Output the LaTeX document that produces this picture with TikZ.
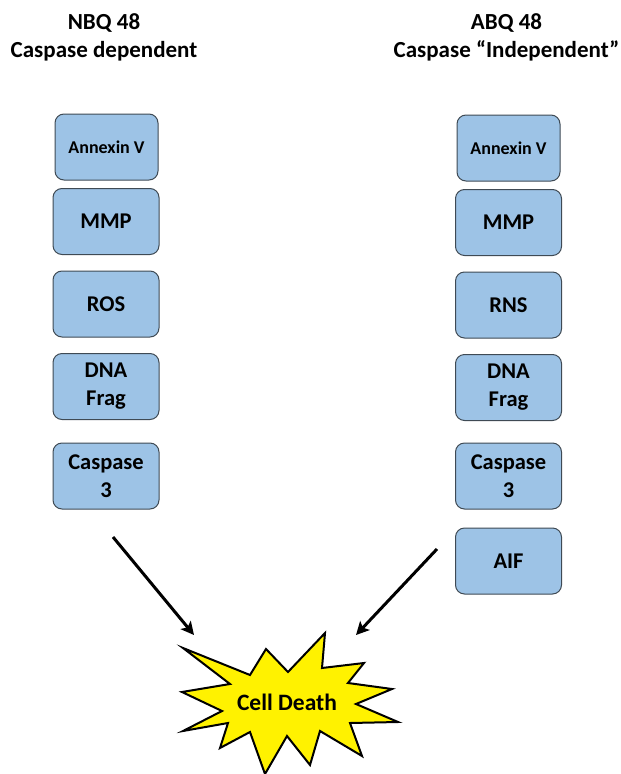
\documentclass[tikz,border=0pt]{standalone}
\usepackage{fontspec}
\setmainfont{Carlito}
\usetikzlibrary{arrows.meta,positioning,calc}
\definecolor{assayblue}{HTML}{9DC3E6}
\definecolor{assayedge}{HTML}{3F4A54}
\definecolor{burstyellow}{HTML}{FFF200}

\begin{document}
\begin{tikzpicture}[
  x=1pt, y=-1pt,
  hdr/.style={font=\fontsize{23}{28}\selectfont\bfseries, align=center},
  assay/.style={draw=assayedge, line width=1pt, fill=assayblue, rounded corners=9pt,
                minimum width=106pt, minimum height=66pt, inner sep=0pt,
                font=\fontsize{22.5}{28}\selectfont\bfseries, align=center},
  small/.style={minimum width=103pt, font=\fontsize{18}{20}\selectfont\bfseries},
  arrow/.style={-{Stealth[length=13pt,width=13pt,inset=3pt]}, line width=3pt},
]
\useasboundingbox (0,0) rectangle (621,774);

%% ---- Titulos ----
\node[hdr] at (104,37)  (nbq) {NBQ 48\\Caspase dependent};
\node[hdr] at (506.5,37)  (abq) {ABQ 48\\Caspase “Independent”};

%% ---- Columna izquierda (NBQ 48) ----
\node[assay, small] at (106.5,147) (annL) {Annexin V};
\node[assay] at (106,221.5) (mmpL)  {MMP};
\node[assay] at (106,304)   (rosL)  {ROS};
\node[assay] at (106,386.5) (dnaL)  {DNA\\Frag};
\node[assay] at (106,476)   (caspL) {Caspase\\3};

%% ---- Columna derecha (ABQ 48) ----
\node[assay, small] at (508.5,148) (annR) {Annexin V};
\node[assay] at (508.5,222.5) (mmpR)  {MMP};
\node[assay] at (508.5,305)   (rnsR)  {RNS};
\node[assay] at (508.5,387.5) (dnaR)  {DNA\\Frag};
\node[assay] at (508.5,476)   (caspR) {Caspase\\3};
\node[assay] at (508.5,561)   (aifR)  {AIF};

%% ---- Estallido "Cell Death" ----
\draw[line width=2pt, fill=burstyellow, line join=miter]
  (183,648) -- (250,675) -- (266,649) -- (288,672) -- (325,633) -- (322,668)
  -- (364,663) -- (348,683) -- (392,689) -- (356,704) -- (398,722) -- (350,723)
  -- (362,756) -- (320,731) -- (310,765) -- (287,736) -- (265,774) -- (250,732)
  -- (220,748) -- (228,723) -- (183,731) -- (222,711) -- (182,692) -- (230,684)
  -- cycle;
\node[font=\fontsize{23.5}{26}\selectfont\bfseries] at (287,702) (death) {Cell Death};

%% ---- Flechas hacia la muerte celular ----
\coordinate (fromL) at (113,537);
\coordinate (toL)   at (194,635);
\coordinate (fromR) at (437,549);
\coordinate (toR)   at (356,635);
\draw[arrow] (fromL) -- (toL);
\draw[arrow] (fromR) -- (toR);

\end{tikzpicture}
\end{document}
